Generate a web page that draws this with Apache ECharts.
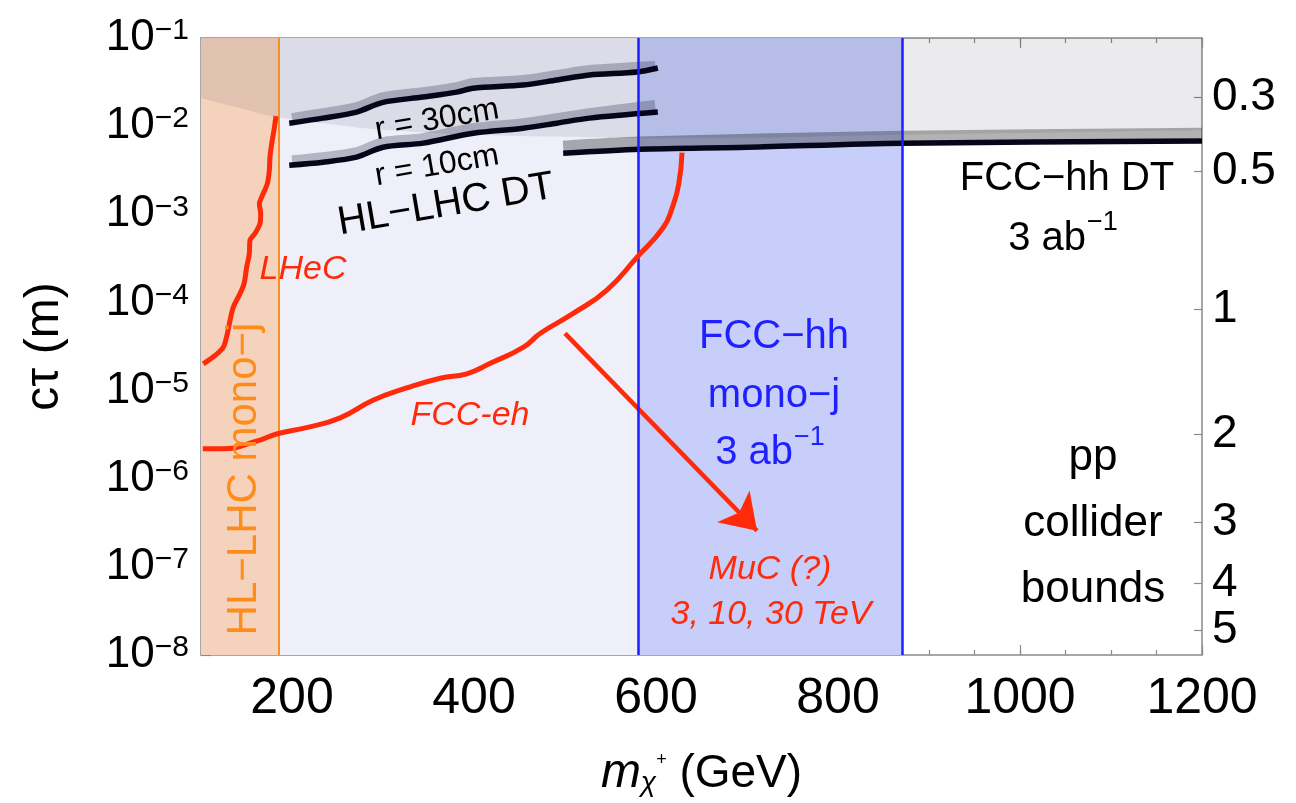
<!DOCTYPE html>
<html>
<head>
<meta charset="utf-8">
<script src="https://cdn.jsdelivr.net/npm/echarts@6/dist/echarts.min.js"></script>
<style>
  html, body { margin: 0; padding: 0; background: #fff; }
  #main { width: 1296px; height: 803px; }
</style>
</head>
<body>
<div id="main"></div>
<script>
// chargino lifetime reach, ct (m) vs m_chi+ (GeV)
var FONT = 'Liberation Sans, Arial, Helvetica, sans-serif';

var xMajorTicks = [200, 400, 600, 800, 1000, 1200];
var yDecades = [1e-8, 1e-7, 1e-6, 1e-5, 1e-4, 1e-3, 1e-2, 1e-1];
// right axis: mass splitting labels and the ct where they sit
var dmLabels = ['0.3', '0.5', '1', '2', '3', '4', '5'];
var dmCt = [2.14e-2, 3.1e-3, 8.3e-5, 3.2e-6, 3.2e-7, 6.5e-8, 1.9e-8];

// vertical mass bounds
var hlLhcMonojMass = 185;
var fccHhMonojMass = [580, 871];

// grey shaded region (lower edge)
var greyMass = [100, 143, 185, 234, 308, 418, 527, 615, 870, 1200];
var greyCt = [0.0208, 0.0160, 0.0126, 0.0108, 0.0090, 0.0079, 0.0075, 0.0073, 0.0080, 0.0090];

// HL-LHC DT, r = 30cm
var r30Mass = [197, 234, 271, 300, 344, 381, 399, 454, 491, 527, 579, 602];
var r30Ct = [0.01081, 0.01233, 0.01445, 0.01862, 0.02138, 0.02432, 0.02692, 0.02924, 0.03334, 0.03802, 0.04111, 0.04571];
var r30BandMass = [200, 234, 271, 300, 344, 381, 399, 454, 491, 527, 599];
var r30BandCt = [0.01233, 0.01406, 0.01644, 0.02138, 0.02432, 0.02773, 0.03083, 0.03334, 0.03802, 0.04325, 0.04808];

// HL-LHC DT, r = 10cm
var r10Mass = [197, 234, 271, 300, 344, 399, 454, 491, 527, 602];
var r10Ct = [0.003606, 0.003899, 0.004446, 0.005768, 0.006412, 0.008318, 0.009484, 0.01081, 0.01233, 0.01445];
var r10BandMass = [200, 234, 271, 300, 344, 399, 454, 491, 527, 599];
var r10BandCt = [0.00411, 0.00445, 0.00507, 0.00658, 0.00731, 0.00948, 0.01081, 0.01233, 0.01406, 0.01738];

// FCC-hh DT
var fccDtMass = [498, 582, 700, 870, 1200];
var fccDtCt = [4.93e-3, 5.48e-3, 5.77e-3, 6.41e-3, 6.77e-3];
var fccDtBandMass = [498, 582, 870, 1200];
var fccDtBandCt = [5.93e-3, 6.6e-3, 7.7e-3, 8.3e-3];

// LHeC
var lhecMass = [182.4, 180.2, 177.7, 175.8, 175.1, 172.9, 166.7, 164.1, 165.6, 164.8, 159.3, 153.8, 153.1, 150.2, 147.3, 142.9, 135.5, 131.9, 128.9, 124.5, 115.4, 102.5];
var lhecCt = [0.0130, 0.00902, 0.00635, 0.00448, 0.00316, 0.00223, 0.00157, 0.00132, 0.00102, 7.83e-4, 6.04e-4, 5.07e-4, 3.57e-4, 2.52e-4, 1.63e-4, 1.26e-4, 8.85e-5, 6.24e-5, 4.41e-5, 3.10e-5, 2.50e-5, 2.01e-5];

// FCC-eh
var fccEhMass = [102, 124, 162, 184, 216, 253, 289, 326, 363, 392, 418, 454, 473, 509, 546, 579, 608, 618, 625, 628.6];
var fccEhCt = [2.19e-6, 2.19e-6, 2.69e-6, 3.24e-6, 3.80e-6, 4.90e-6, 7.76e-6, 1.07e-5, 1.38e-5, 1.55e-5, 2.04e-5, 3.09e-5, 4.47e-5, 7.50e-5, 1.38e-4, 3.24e-4, 7.08e-4, 1.2e-3, 2.2e-3, 5.0e-3];

// MuC arrow (start, tip)
var arrowMass = [500, 711];
var arrowCt = [4.45e-5, 2.57e-7];

function zip(xs, ys) {
  var out = [];
  for (var i = 0; i < xs.length; i++) out.push([xs[i], ys[i]]);
  return out;
}

function curve(name, xs, ys, color, width, z, smooth) {
  return {
    name: name,
    type: 'line',
    data: zip(xs, ys),
    symbol: 'none',
    smooth: smooth == null ? 0.3 : smooth,
    silent: true,
    z: z,
    lineStyle: { color: color, width: width }
  };
}

var RED = '#ff2a0a';
var BLUE = '#1f1fff';
var ORANGE = '#ff8c1a';
var frameColor = '#8a8a8a';

var supRich = {
  b: { fontSize: 44, fontFamily: FONT, color: '#000' },
  s: { fontSize: 30, fontFamily: FONT, color: '#000', verticalAlign: 'top', lineHeight: 16 }
};

function xAxisDef(pos, tickLen, customTicks, showLine, showLabel) {
  var ax = {
    type: 'value', min: 100, max: 1200, position: pos,
    splitLine: { show: false },
    axisLine: { show: showLine, onZero: false, lineStyle: { color: frameColor, width: 1.5 } },
    axisTick: { show: true, inside: true, length: tickLen, lineStyle: { color: frameColor, width: 1.2 } },
    axisLabel: { show: false }
  };
  if (customTicks) ax.axisTick.customValues = customTicks;
  else ax.interval = 50;
  if (showLabel) {
    ax.axisLabel = {
      show: true, customValues: xMajorTicks, fontSize: 50, fontFamily: FONT, color: '#000', margin: 19,
      formatter: function (v) { return String(v); }
    };
    ax.name = '{m|m}{c|χ}{p|+}{g| (GeV)}';
    ax.nameLocation = 'middle';
    ax.nameGap = 96;
    ax.nameTextStyle = {
      rich: {
        m: { fontSize: 48, fontStyle: 'italic', fontFamily: FONT, color: '#000', lineHeight: 46 },
        c: { fontSize: 28, fontStyle: 'italic', fontFamily: FONT, color: '#000', verticalAlign: 'bottom', lineHeight: 22 },
        p: { fontSize: 18, fontFamily: FONT, color: '#000', verticalAlign: 'top', lineHeight: 30 },
        g: { fontSize: 46, fontFamily: FONT, color: '#000', lineHeight: 46 }
      }
    };
  }
  return ax;
}

var dmPos = dmCt.map(function (c) { return Math.log10(c); });

var option = {
  backgroundColor: '#fff',
  animation: false,
  grid: { left: 201, right: 94, top: 38, bottom: 148 },
  xAxis: [
    xAxisDef('bottom', 5, null, true, true),
    xAxisDef('bottom', 10, xMajorTicks, false, false),
    xAxisDef('top', 5, null, true, false),
    xAxisDef('top', 10, xMajorTicks, false, false)
  ],
  yAxis: [{
    type: 'log', logBase: 10, min: 1e-8, max: 1e-1, position: 'left',
    splitLine: { show: false },
    axisLine: { show: true, onZero: false, lineStyle: { color: frameColor, width: 1.5 } },
    axisTick: { show: true, inside: true, length: 10, customValues: yDecades, lineStyle: { color: frameColor, width: 1.2 } },
    axisLabel: {
      customValues: yDecades,
      margin: 12,
      formatter: function (v) {
        var e = Math.round(Math.log10(v));
        return '{b|10}{s|' + (e < 0 ? '\u2212' : '') + Math.abs(e) + '}';
      },
      rich: supRich
    },
    name: 'cτ (m)',
    nameLocation: 'middle',
    nameGap: 132,
    nameTextStyle: { fontSize: 48, fontFamily: FONT, color: '#000' }
  }, {
    type: 'value', min: -8, max: -1, position: 'right',
    splitLine: { show: false },
    axisLine: { show: true, onZero: false, lineStyle: { color: frameColor, width: 1.5 } },
    axisTick: { show: true, inside: true, length: 8, customValues: dmPos, lineStyle: { color: frameColor, width: 1.2 } },
    axisLabel: {
      customValues: dmPos,
      margin: 10,
      fontSize: 46,
      fontFamily: FONT,
      color: '#000',
      formatter: function (v) {
        var best = 0;
        for (var i = 1; i < dmPos.length; i++) {
          if (Math.abs(dmPos[i] - v) < Math.abs(dmPos[best] - v)) best = i;
        }
        return dmLabels[best];
      }
    }
  }],
  series: [
    {
      name: 'bands', type: 'line', data: [], silent: true, z: 0,
      markArea: {
        silent: true,
        data: [
          [{ xAxis: 100, itemStyle: { color: '#f5d2bc' } }, { xAxis: hlLhcMonojMass }],
          [{ xAxis: hlLhcMonojMass, itemStyle: { color: '#eeeff9' } }, { xAxis: fccHhMonojMass[0] }],
          [{ xAxis: fccHhMonojMass[0], itemStyle: { color: '#c6cef9' } }, { xAxis: fccHhMonojMass[1] }]
        ]
      }
    },
    {
      name: 'grey region', type: 'line', data: zip(greyMass, greyCt), symbol: 'none', smooth: 0.6,
      silent: true, z: 2,
      lineStyle: { width: 0 },
      areaStyle: { color: 'rgba(0,0,25,0.115)', origin: 'end' }
    },
    curve('FCC-hh DT band', fccDtBandMass, fccDtBandCt, 'rgba(0,0,0,0.3)', 11, 3),
    curve('r30 band', r30BandMass, r30BandCt, 'rgba(45,50,80,0.3)', 10, 3),
    curve('r10 band', r10BandMass, r10BandCt, 'rgba(45,50,80,0.3)', 10, 3),
    curve('r30', r30Mass, r30Ct, '#06061a', 5.5, 4),
    curve('r10', r10Mass, r10Ct, '#06061a', 5.5, 4),
    curve('FCC-hh DT', fccDtMass, fccDtCt, '#06061a', 5.5, 4),
    curve('LHeC', lhecMass, lhecCt, RED, 5, 5),
    (function () {
      var s = curve('FCC-eh', fccEhMass, fccEhCt, RED, 5, 5, 0.5);
      s.markLine = {
        silent: true,
        symbol: ['none', 'arrow'],
        symbolSize: 34,
        label: { show: false },
        lineStyle: { color: RED, width: 4.5, type: 'solid' },
        data: [[
          { coord: [arrowMass[0], arrowCt[0]] },
          { coord: [arrowMass[1], arrowCt[1]] }
        ]]
      };
      return s;
    })(),
    {
      name: 'mass bounds', type: 'line', data: [], silent: true, z: 6,
      markLine: {
        silent: true,
        symbol: ['none', 'none'],
        label: { show: false },
        data: [
          { xAxis: hlLhcMonojMass, lineStyle: { color: '#f7901e', width: 2, type: 'solid' } },
          { xAxis: fccHhMonojMass[0], lineStyle: { color: BLUE, width: 2.5, type: 'solid' } },
          { xAxis: fccHhMonojMass[1], lineStyle: { color: BLUE, width: 2.5, type: 'solid' } }
        ]
      }
    }
  ],
  graphic: [
    txt('r = 30cm', 437, 120, 32, '#000', 0.17),
    txt('r = 10cm', 437, 166, 32, '#000', 0.17),
    txt('HL\u2212LHC DT', 446, 205, 40, '#000', 0.17),
    txt('LHeC', 303, 270, 34, RED, 0, true),
    txt('FCC-eh', 470, 416, 34, RED, 0, true),
    txt('HL\u2212LHC mono\u2212j', 244, 479, 42, ORANGE, Math.PI / 2),
    txt('FCC\u2212hh', 774, 337, 40, BLUE, 0),
    txt('mono\u2212j', 774, 396, 40, BLUE, 0),
    txt('3 ab', 793, 453, 40, BLUE, 0, false, 'right'),
    txt('\u22121', 794, 438, 27, BLUE, 0, false, 'left'),
    txt('MuC (?)', 770, 570, 34, RED, 0, true),
    txt('3, 10, 30 TeV', 771, 615, 34, RED, 0, true),
    txt('FCC\u2212hh DT', 1067, 179, 40, '#000', 0),
    txt('3 ab', 1086, 239, 40, '#000', 0, false, 'right'),
    txt('\u22121', 1087, 223, 27, '#000', 0, false, 'left'),
    txt('pp', 1093, 458, 44, '#000', 0),
    txt('collider', 1093, 524, 44, '#000', 0),
    txt('bounds', 1093, 590, 44, '#000', 0)
  ]
};

function txt(s, x, y, size, color, rot, italic, align) {
  return {
    type: 'text', x: x, y: y, rotation: rot || 0, z: 100, silent: true,
    style: {
      text: s, fill: color, font: (italic ? 'italic ' : '') + size + 'px ' + FONT,
      textAlign: align || 'center', textVerticalAlign: 'middle'
    }
  };
}

var chart = echarts.init(document.getElementById('main'), null, { renderer: 'canvas' });
chart.setOption(option);
</script>
</body>
</html>
